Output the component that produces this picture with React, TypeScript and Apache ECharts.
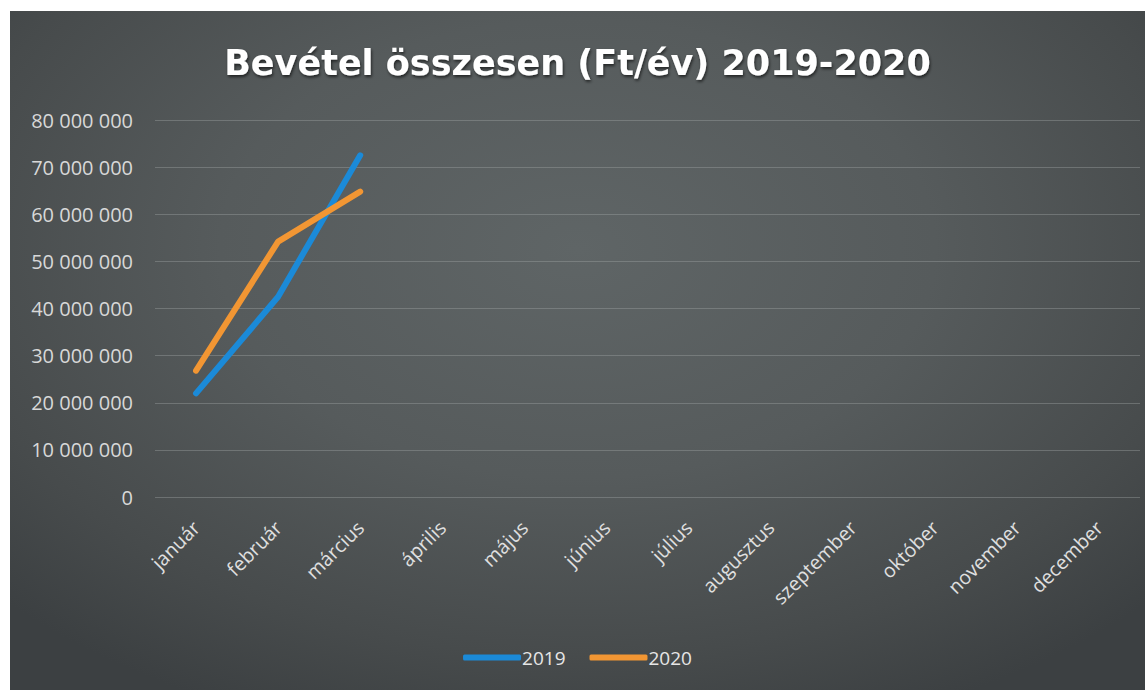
import React, { useEffect, useRef } from "react";
import * as echarts from "echarts";

const months = [
  "január", "február", "március", "április", "május", "június",
  "július", "augusztus", "szeptember", "október", "november", "december",
];
const yTicks = [0, 10000000, 20000000, 30000000, 40000000, 50000000, 60000000, 70000000, 80000000];
const rev2019 = [22000000, 42500000, 72500000];
const rev2020 = [26800000, 54200000, 64800000];
const seriesNames = ["2019", "2020"];

const fmt = (v: number) => String(v).replace(/\B(?=(\d{3})+(?!\d))/g, " ");

export default function App() {
  const ref = useRef<HTMLDivElement>(null);
  useEffect(() => {
    if (!ref.current) return;
    const chart = echarts.init(ref.current, null, { renderer: "svg" });
    const labelFont = "Open Sans, Noto Sans, sans-serif";
    chart.setOption({
      animation: false,
      backgroundColor: "transparent",
      title: {
        text: "Bevétel összesen (Ft/év) 2019-2020",
        left: "center",
        top: 29,
        textStyle: {
          color: "#ffffff",
          fontSize: 35,
          fontWeight: "bold",
          fontFamily: "DejaVu Sans, sans-serif",
          textShadowColor: "rgba(0,0,0,0.6)",
          textShadowBlur: 3,
          textShadowOffsetX: 1,
          textShadowOffsetY: 2,
        },
      },
      legend: {
        bottom: 18,
        left: "center",
        itemWidth: 58,
        itemHeight: 6,
        itemGap: 24,
        icon: "roundRect",
        textStyle: { color: "#e6e6e6", fontSize: 19, fontFamily: labelFont, padding: [0, 0, 0, -4] },
        data: seriesNames,
      },
      grid: { left: 145, right: 5, top: 109, bottom: 193, containLabel: false },
      xAxis: {
        type: "category",
        data: months,
        boundaryGap: true,
        axisLine: { show: false },
        axisTick: { show: false },
        axisLabel: {
          rotate: 45,
          color: "#e0e0e0",
          fontSize: 19.5,
          fontFamily: labelFont,
          margin: 27,
          interval: 0,
        },
      },
      yAxis: {
        type: "value",
        min: yTicks[0],
        max: yTicks[yTicks.length - 1],
        interval: yTicks[1] - yTicks[0],
        axisLine: { show: false },
        axisTick: { show: false },
        axisLabel: {
          color: "#d8d8d8",
          fontSize: 20,
          fontFamily: labelFont,
          margin: 22,
          formatter: (v: number) => fmt(v),
        },
        splitLine: { lineStyle: { color: "rgba(160,166,166,0.4)", width: 1 } },
      },
      series: [
        {
          name: seriesNames[0],
          type: "line",
          data: rev2019,
          symbol: "none",
          lineStyle: { color: "#1b8ad8", width: 6, cap: "round", join: "round" },
          itemStyle: { color: "#1b8ad8" },
        },
        {
          name: seriesNames[1],
          type: "line",
          data: rev2020,
          symbol: "none",
          lineStyle: { color: "#f29633", width: 6, cap: "round", join: "round" },
          itemStyle: { color: "#f29633" },
        },
      ],
    });
    return () => chart.dispose();
  }, []);
  return (
    <div style={{ position: "fixed", left: 0, top: 0, width: 1145, height: 690, background: "#ffffff" }}>
      <div
        style={{
          position: "absolute",
          left: 10,
          top: 11,
          width: 1135,
          height: 679,
          background:
            "radial-gradient(ellipse 70% 75% at 50% 35%, #5f6566 0%, #565b5c 45%, #474b4c 80%, #3c4042 100%)",
        }}
      >
        <div ref={ref} style={{ width: 1135, height: 679 }} />
      </div>
    </div>
  );
}
